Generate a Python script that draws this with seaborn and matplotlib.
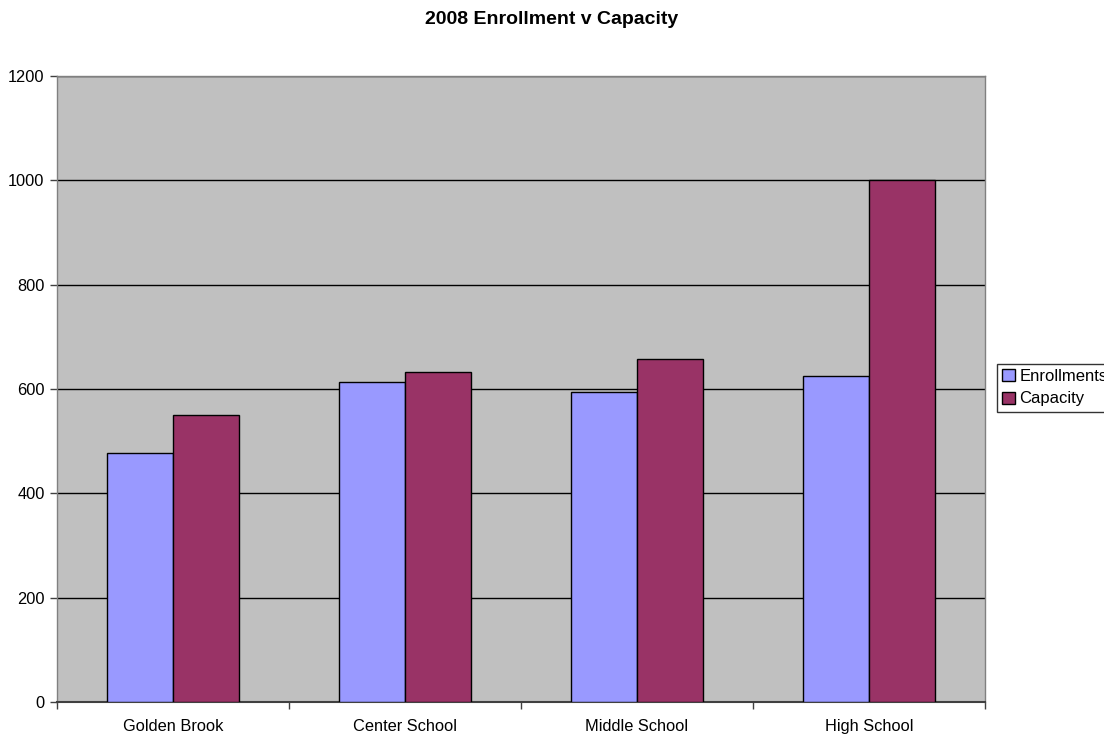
import matplotlib
matplotlib.use("Agg")
import matplotlib.pyplot as plt
import seaborn as sns
import pandas as pd
import numpy as np

schools = ["Golden Brook", "Center School", "Middle School", "High School"]
enrollments = [478, 613, 594, 625]
capacity = [550, 632, 658, 1000]
series_names = ["Enrollments", "Capacity"]
yticks = [0, 200, 400, 600, 800, 1000, 1200]

df = pd.DataFrame({
    "School": schools * 2,
    "Series": [series_names[0]] * 4 + [series_names[1]] * 4,
    "Value": enrollments + capacity,
})

sns.set_theme(style="white")
plt.rcParams['font.family'] = ['Liberation Sans', 'DejaVu Sans']
plt.rcParams['text.color'] = 'black'
plt.rcParams['xtick.color'] = 'black'
plt.rcParams['ytick.color'] = 'black'
plt.rcParams['xtick.labelcolor'] = 'black'
plt.rcParams['ytick.labelcolor'] = 'black'

fig = plt.figure(figsize=(11.04, 7.35), dpi=100)
ax = fig.add_axes([57/1104, 1 - 702/735, (985-57)/1104, (702-76)/735])
ax.set_facecolor("#C0C0C0")

sns.barplot(data=df, x="School", y="Value", hue="Series", order=schools,
            hue_order=series_names, palette=["#9999FF", "#993366"],
            width=0.57, edgecolor="black", linewidth=1.0, ax=ax,
            saturation=1, legend=True, zorder=3)

ax.set_ylim(0, 1200)
ax.set_xlim(-0.5, 3.5)
ax.set_yticks(yticks)
ax.set_yticklabels([str(t) for t in yticks], fontsize=11.8, color="black")
ax.yaxis.grid(True, color="black", linewidth=1.0, zorder=1)
ax.set_axisbelow(True)
ax.set_xlabel("")
ax.set_ylabel("")

ax.set_xticks(range(4))
ax.set_xticklabels(schools, fontsize=11.8, color="black")
ax.tick_params(axis="x", which="major", length=0, pad=12)
ax.set_xticks([-0.5, 0.5, 1.5, 2.5, 3.5], minor=True)
ax.tick_params(axis="x", which="minor", length=5, color="#404040", width=1, direction="out", bottom=True)
ax.tick_params(axis="y", which="major", length=5, color="#404040", width=1, direction="out", left=True, pad=4)

for s in ["left", "right", "top"]:
    ax.spines[s].set_color("#808080")
    ax.spines[s].set_linewidth(1.0)
ax.spines["bottom"].set_color("#404040")
ax.spines["bottom"].set_linewidth(1.5)

handles, labels = ax.get_legend_handles_labels()
ax.get_legend().remove()
leg = fig.legend(handles, labels, loc="upper left",
                 bbox_to_anchor=(997/1104, 1 - 364/735),
                 frameon=True, fancybox=False, fontsize=12,
                 handlelength=0.75, handleheight=0.75, handletextpad=0.3,
                 borderpad=0.3, labelspacing=0.45, borderaxespad=0)
leg.get_frame().set_edgecolor("black")
leg.get_frame().set_linewidth(1.0)
leg.get_frame().set_boxstyle("square", pad=0)
for t in leg.get_texts():
    t.set_color("black")

fig.text(0.5, 1 - 19/735, "2008 Enrollment v Capacity", ha="center", va="center",
         fontsize=14, fontweight="bold", color="black")

fig.savefig("out.png", dpi=100)
